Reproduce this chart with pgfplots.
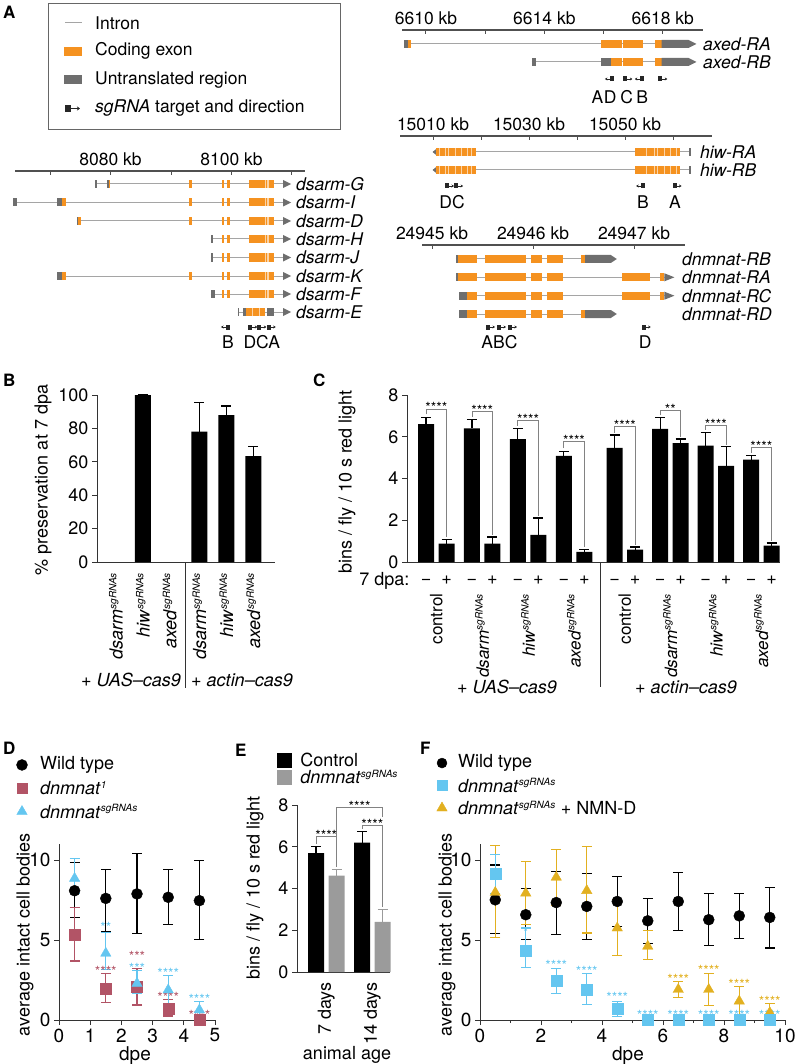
\documentclass[border=0pt]{standalone}
\usepackage{fontspec}
\setmainfont{TeX Gyre Heros}
\setsansfont{TeX Gyre Heros}
\usepackage{pgfplots}
\pgfplotsset{compat=1.18}
\usetikzlibrary{arrows.meta}

\definecolor{cdsc}{RGB}{245,146,32}
\definecolor{utrc}{RGB}{110,110,110}
\definecolor{intc}{RGB}{165,165,165}
\definecolor{mar}{RGB}{178,84,102}
\definecolor{sky}{RGB}{100,198,240}
\definecolor{gold}{RGB}{226,176,32}
\definecolor{egray}{RGB}{155,155,155}
\definecolor{scl}{RGB}{80,80,80}
\definecolor{brk}{RGB}{130,130,130}

\newcommand{\fa}{\fontsize{17.5}{20}\selectfont}
\newcommand{\fb}{\fontsize{18}{21}\selectfont}
\newcommand{\fbs}{\fontsize{17}{20}\selectfont}
\newcommand{\fc}{\fontsize{19}{22}\selectfont}
\newcommand{\fst}{\fontsize{14}{14}\selectfont}
\newcommand{\fl}{\fontsize{17}{20}\selectfont\bfseries}
\newcommand{\sgr}{\textsuperscript{\fontsize{10}{10}\selectfont\itshape sgRNAs}}

% gene model helpers (axis cs)
\newcommand{\intr}[3]{\draw[intc, line width=1pt] (axis cs:#1,#3) -- (axis cs:#2,#3);}
\newcommand{\cds}[3]{\fill[cdsc] ([yshift=-4pt]axis cs:#1,#3) rectangle ([yshift=4pt]axis cs:#2,#3);}
\newcommand{\utr}[3]{\fill[utrc] ([yshift=-4pt]axis cs:#1,#3) rectangle ([yshift=4pt]axis cs:#2,#3);}
\newcommand{\utrR}[4]{\fill[utrc] ([yshift=-4pt]axis cs:#1,#3) -- ([xshift=-#4,yshift=-4pt]axis cs:#2,#3) -- (axis cs:#2,#3) -- ([xshift=-#4,yshift=4pt]axis cs:#2,#3) -- ([yshift=4pt]axis cs:#1,#3) -- cycle;}
\newcommand{\triR}[3]{\fill[utrc] (axis cs:#1,#2) -- ++(-#3,4pt) -- ++(0pt,-8pt) -- cycle;}
\newcommand{\triL}[2]{\fill[utrc] (axis cs:#1,#2) -- ++(5pt,4pt) -- ++(0pt,-8pt) -- cycle;}
\newcommand{\sepl}[2]{\draw[cdsc!40!white, line width=0.6pt] ([yshift=-4pt]axis cs:#1,#2) -- ([yshift=4pt]axis cs:#1,#2);}
\newcommand{\sgR}[2]{\fill[black!85] ([yshift=-2.5pt]axis cs:#1,#2) rectangle ++(4pt,5pt); \draw[black!85, line width=0.6pt, -{Stealth[length=2.5pt,width=3pt]}] ([xshift=4pt]axis cs:#1,#2) -- ++(5pt,0pt);}
\newcommand{\sgL}[2]{\fill[black!85] ([yshift=-2.5pt]axis cs:#1,#2) rectangle ++(-4pt,5pt); \draw[black!85, line width=0.6pt, -{Stealth[length=2.5pt,width=3pt]}] ([xshift=-4pt]axis cs:#1,#2) -- ++(-5pt,0pt);}
\newcommand{\glab}[3]{\node[anchor=west, font=\fa\itshape, inner sep=0pt] at (axis cs:#1,#2) {#3};}
\newcommand{\tlab}[3]{\node[font=\fa, inner sep=0pt] at (axis cs:#1,#2) {#3};}
\newcommand{\scaleline}[3]{\draw[scl, line width=1.3pt] (axis cs:#1,#3) -- (axis cs:#2,#3);}
\newcommand{\stick}[2]{\draw[scl, line width=1pt] ([yshift=0.6pt]axis cs:#1,#2) -- ++(0pt,-4.6pt);}
\newcommand{\slab}[3]{\node[anchor=base, font=\fa, inner sep=0pt] at ([yshift=5pt]axis cs:#1,#2) {#3};}
% dsarm common parts
\newcommand{\eone}[1]{\cds{93.03}{93.41}{#1}}
\newcommand{\tailA}[1]{\cds{98.38}{98.76}{#1}\cds{99.2}{99.75}{#1}\cds{102.95}{107.02}{#1}\sepl{105.6}{#1}\sepl{105.85}{#1}\sepl{106.1}{#1}\triR{109.85}{#1}{8pt}}
% dnmnat common parts
\newcommand{\dfront}[1]{\cds{1.52}{1.93}{#1}\cds{1.98}{2.09}{#1}\cds{2.14}{2.30}{#1}}
\newcommand{\hiwrow}[1]{\intr{10}{63.75}{#1}\triL{9.9}{#1}\cds{10.6}{18.96}{#1}\sepl{11.3}{#1}\sepl{12.5}{#1}\sepl{13.2}{#1}\sepl{14.6}{#1}\sepl{15.9}{#1}\sepl{17.1}{#1}\sepl{18.0}{#1}\cds{52.1}{61.5}{#1}\sepl{54.5}{#1}\sepl{56.0}{#1}\sepl{56.8}{#1}\sepl{58.2}{#1}\sepl{59.5}{#1}\sepl{60.6}{#1}\utr{63.3}{63.75}{#1}}
% panel helpers
\newcommand{\pmk}[2]{\node[font=\fb, anchor=base] at ([yshift=-22pt]axis cs:#1,0) {#2};}
\newcommand{\stars}[4]{\node[font=\fst, text=#1, inner sep=0pt] at ([yshift=-3pt]axis cs:#2,#3) {#4};}
\newcommand{\bstars}[3]{\node[font=\fst, anchor=base, inner sep=0pt] at ([yshift=-4pt]axis cs:#1,#2) {#3};}
\newcommand{\clab}[2]{\node[rotate=90, anchor=east, font=\fbs] at ([yshift=-28pt]axis cs:#1,0) {#2};}
\newcommand{\blab}[2]{\node[rotate=90, anchor=east, font=\fb] at ([yshift=-7pt]axis cs:#1,0) {#2};}

\pgfplotsset{
  gene/.style={hide axis, scale only axis, clip=false, anchor=south west},
  dax/.style={scale only axis, clip=false, anchor=south west,
    axis x line*=bottom, axis y line*=left,
    axis line style={-, line width=1pt, black!80},
    every tick/.style={line width=1pt, black!80},
    tick align=outside, major tick length=5pt,
    tick label style={font=\fb},
    /pgf/number format/assume math mode=true},
  barE/.style={ybar, bar width=16pt, bar shift=0pt, draw=none,
    error bars/y dir=plus, error bars/y explicit,
    error bars/error bar style={line width=1.2pt, draw=#1},
    error bars/error mark options={rotate=90, mark size=5pt, line width=1.2pt, draw=#1}},
  ptE/.style={only marks,
    error bars/y dir=both, error bars/y explicit,
    error bars/error bar style={line width=1.1pt, draw=#1},
    error bars/error mark options={rotate=90, mark size=5pt, line width=1.1pt, draw=#1}},
}

\begin{document}
\begin{tikzpicture}
\useasboundingbox (0pt,0pt) rectangle (798pt,-1064pt);

% ---------------- Panel letters ----------------
\node[font=\fl, anchor=north west, inner sep=0pt] at (3pt,-6pt) {A};
\node[font=\fl, anchor=north west, inner sep=0pt] at (3pt,-374pt) {B};
\node[font=\fl, anchor=north west, inner sep=0pt] at (313pt,-374pt) {C};
\node[font=\fl, anchor=north west, inner sep=0pt] at (3pt,-742pt) {D};
\node[font=\fl, anchor=north west, inner sep=0pt] at (235pt,-744pt) {E};
\node[font=\fl, anchor=north west, inner sep=0pt] at (420pt,-742pt) {F};

% ---------------- Legend box of A ----------------
\draw[black!60, line width=1pt] (48pt,-4pt) rectangle (340pt,-130pt);
\draw[intc, line width=1pt] (65pt,-23pt) -- (82pt,-23pt);
\node[anchor=west, font=\fa, inner sep=0pt] at (95pt,-23pt) {Intron};
\fill[cdsc] (64pt,-47pt) rectangle (82pt,-56pt);
\node[anchor=west, font=\fa, inner sep=0pt] at (95pt,-51pt) {Coding exon};
\fill[utrc] (64pt,-75pt) rectangle (82pt,-84pt);
\node[anchor=west, font=\fa, inner sep=0pt] at (95pt,-80pt) {Untranslated region};
\fill[black!85] (65pt,-105pt) rectangle (71pt,-112pt);
\draw[black!85, line width=0.8pt, -{Stealth[length=3pt,width=4pt]}] (71pt,-108.5pt) -- (80pt,-108.5pt);
\node[anchor=west, font=\fa, inner sep=0pt] at (95pt,-108pt) {\textit{sgRNA} target and direction};

% ---------------- dsarm (kb - 8000) ----------------
\begin{axis}[gene, at={(15pt,-345pt)}, width=290pt, height=195pt,
  xmin=64.21, xmax=112.15, ymin=-345, ymax=-150]
\scaleline{64.21}{112.15}{-171}
\stick{70}{-171}\stick{80}{-171}\stick{90}{-171}\stick{100}{-171}\stick{110}{-171}
\slab{80}{-171}{8080 kb}\slab{100}{-171}{8100 kb}
\intr{77.44}{109}{-184}\utr{77.44}{77.77}{-184}\utr{79.37}{79.70}{-184}\cds{79.70}{79.92}{-184}\eone{-184}\tailA{-184}
\intr{63.93}{109}{-202.5}\utr{63.93}{64.6}{-202.5}\utr{71.2}{72.03}{-202.5}\cds{72.03}{72.6}{-202.5}\eone{-202.5}\tailA{-202.5}
\intr{74.4}{109}{-221}\utr{74.4}{74.63}{-221}\cds{74.63}{75.07}{-221}\eone{-221}\tailA{-221}
\intr{96.56}{109}{-239}\utr{96.56}{96.89}{-239}\tailA{-239}
\intr{96.56}{109}{-257.5}\utr{96.56}{96.89}{-257.5}\tailA{-257.5}
\intr{71.2}{109}{-276}\utr{71.2}{72.03}{-276}\cds{72.03}{72.6}{-276}\eone{-276}\tailA{-276}
\intr{96.56}{109}{-294}\utr{96.56}{97.27}{-294}\tailA{-294}
\intr{101.02}{109}{-312}\utr{101.02}{101.18}{-312}\utr{101.85}{102.4}{-312}\cds{102.4}{105.54}{-312}\sepl{103.5}{-312}\sepl{104.6}{-312}\utr{105.8}{107.02}{-312}\triR{109.85}{-312}{8pt}
\glab{110.66}{-184}{dsarm-G}\glab{110.66}{-202.5}{dsarm-I}\glab{110.66}{-221}{dsarm-D}
\glab{110.66}{-239}{dsarm-H}\glab{110.66}{-257.5}{dsarm-J}\glab{110.66}{-276}{dsarm-K}
\glab{110.66}{-294}{dsarm-F}\glab{110.66}{-312}{dsarm-E}
\sgL{99.75}{-327}\sgR{102.78}{-327}\sgR{104.27}{-327}\sgR{105.82}{-327}
\tlab{99.42}{-342}{B}\tlab{105.0}{-342}{DCA}
\end{axis}

% ---------------- axed (kb - 6600) ----------------
\begin{axis}[gene, at={(402pt,-105pt)}, width=301pt, height=95pt,
  xmin=9.19, xmax=19.36, ymin=-105, ymax=-10]
\scaleline{9.19}{19.36}{-30}
\stick{10}{-30}\stick{12}{-30}\stick{14}{-30}\stick{16}{-30}\stick{18}{-30}
\slab{10}{-30}{6610 kb}\slab{14}{-30}{6614 kb}\slab{18}{-30}{6618 kb}
\intr{9.26}{18}{-44}\utr{9.26}{9.40}{-44}\cds{9.40}{9.50}{-44}\cds{15.91}{16.61}{-44}\cds{16.64}{17.32}{-44}\cds{17.74}{17.96}{-44}\utrR{17.96}{19.14}{-44}{8pt}
\intr{13.57}{18}{-62}\utr{13.57}{13.72}{-62}\utr{15.91}{16.24}{-62}\cds{16.24}{16.61}{-62}\cds{16.64}{17.32}{-62}\cds{17.74}{17.96}{-62}\utrR{17.96}{19.14}{-62}{8pt}
\glab{19.36}{-44}{axed-RA}\glab{19.36}{-62}{axed-RB}
\sgL{16.35}{-79}\sgR{16.67}{-79}\sgL{17.36}{-79}\sgR{17.85}{-79}
\tlab{15.79}{-97}{A}\tlab{16.22}{-97}{D}\tlab{16.78}{-97}{C}\tlab{17.31}{-97}{B}
\end{axis}

% ---------------- hiw (kb - 15000) ----------------
\begin{axis}[gene, at={(400pt,-210pt)}, width=312pt, height=95pt,
  xmin=3.125, xmax=68.125, ymin=-210, ymax=-115]
\scaleline{3.125}{68.125}{-136}
\stick{10}{-136}\stick{20}{-136}\stick{30}{-136}\stick{40}{-136}\stick{50}{-136}\stick{60}{-136}
\slab{10}{-136}{15010 kb}\slab{30}{-136}{15030 kb}\slab{50}{-136}{15050 kb}
\hiwrow{-152}\hiwrow{-170}
\glab{65.6}{-152}{hiw-RA}\glab{65.6}{-170}{hiw-RB}
\sgR{12.5}{-186}\sgR{14.4}{-186}\sgL{54.2}{-186}\sgR{59.9}{-186}
\tlab{13.96}{-202}{DC}\tlab{53.75}{-202}{B}\tlab{60.4}{-202}{A}
\end{axis}

% ---------------- dnmnat (kb - 24944) ----------------
\begin{axis}[gene, at={(422pt,-350pt)}, width=263pt, height=125pt,
  xmin=0.901, xmax=3.505, ymin=-350, ymax=-225]
\scaleline{0.901}{3.505}{-245}
\stick{1}{-245}\stick{2}{-245}\stick{3}{-245}
\slab{1}{-245}{24945 kb}\slab{2}{-245}{24946 kb}\slab{3}{-245}{24947 kb}
\intr{1.235}{2.6}{-259}\utr{1.235}{1.255}{-259}\cds{1.255}{1.45}{-259}\dfront{-259}\cds{2.475}{2.515}{-259}\utrR{2.515}{2.83}{-259}{6pt}
\intr{1.235}{3.35}{-277.3}\utr{1.235}{1.255}{-277.3}\cds{1.255}{1.45}{-277.3}\dfront{-277.3}\cds{2.88}{3.16}{-277.3}\cds{3.26}{3.30}{-277.3}\triR{3.40}{-277.3}{10pt}
\intr{1.27}{3.35}{-295.7}\utr{1.27}{1.35}{-295.7}\cds{1.35}{1.45}{-295.7}\dfront{-295.7}\cds{2.88}{3.16}{-295.7}\cds{3.26}{3.30}{-295.7}\triR{3.40}{-295.7}{10pt}
\intr{1.27}{2.6}{-314}\utr{1.27}{1.35}{-314}\cds{1.35}{1.45}{-314}\dfront{-314}\cds{2.475}{2.515}{-314}\utrR{2.515}{2.83}{-314}{6pt}
\glab{3.475}{-259}{dnmnat-RB}\glab{3.475}{-277.3}{dnmnat-RA}\glab{3.475}{-295.7}{dnmnat-RC}\glab{3.475}{-314}{dnmnat-RD}
\sgR{1.535}{-327}\sgR{1.644}{-327}\sgR{1.752}{-327}\sgR{3.076}{-327}
\tlab{1.668}{-342}{ABC}\tlab{3.11}{-342}{D}
\end{axis}

% ---------------- Panel B ----------------
\begin{axis}[dax, at={(97pt,-562pt)}, width=178pt, height=167pt,
  xmin=-0.7, xmax=5.9, ymin=0, ymax=100, ytick={0,20,...,100}, xtick=\empty]
\addplot[fill=black, barE=black] coordinates {(1,100) +- (0,0) (3.1,78) +- (0,17.4) (4.1,88) +- (0,5.4) (5.1,63.4) +- (0,6)};
\draw[black!80, line width=1pt] (axis cs:2.59,0) -- ++(0pt,-126pt);
\blab{0}{\textit{dsarm}\sgr}\blab{1}{\textit{hiw}\sgr}\blab{2}{\textit{axed}\sgr}
\blab{3.1}{\textit{dsarm}\sgr}\blab{4.1}{\textit{hiw}\sgr}\blab{5.1}{\textit{axed}\sgr}
\end{axis}
\node[rotate=90, font=\fb] at (43pt,-480pt) {\% preservation at 7 dpa};
\node[font=\fb] at (131pt,-680pt) {+ \textit{UAS–cas9}};
\node[font=\fb] at (242pt,-680pt) {+ \textit{actin–cas9}};

% ---------------- Panel C ----------------
\begin{axis}[dax, at={(407pt,-562pt)}, width=373pt, height=167pt,
  xmin=-0.93, xmax=17.27, ymin=0, ymax=8, ytick={0,2,...,8}, xtick=\empty]
\addplot[fill=black, barE=black] coordinates {
 (0,6.61) +- (0,0.3) (1,0.88) +- (0,0.21)
 (2.24,6.4) +- (0,0.43) (3.24,0.88) +- (0,0.32)
 (4.48,5.89) +- (0,0.51) (5.48,1.3) +- (0,0.81)
 (6.72,5.09) +- (0,0.22) (7.72,0.48) +- (0,0.11)
 (9.2,5.47) +- (0,0.61) (10.2,0.59) +- (0,0.13)
 (11.42,6.38) +- (0,0.53) (12.42,5.7) +- (0,0.19)
 (13.64,5.57) +- (0,0.64) (14.64,4.61) +- (0,0.91)
 (15.86,4.9) +- (0,0.19) (16.86,0.78) +- (0,0.13)};
\addplot[brk, line width=0.8pt] coordinates {(0,7.07) (0,7.33) (1,7.33) (1,1.2)};
\addplot[brk, line width=0.8pt] coordinates {(2.24,6.95) (2.24,7.22) (3.24,7.22) (3.24,1.3)};
\addplot[brk, line width=0.8pt] coordinates {(4.48,6.52) (4.48,6.8) (5.48,6.8) (5.48,2.2)};
\addplot[brk, line width=0.8pt] coordinates {(6.72,5.45) (6.72,5.76) (7.72,5.76) (7.72,0.7)};
\addplot[brk, line width=0.8pt] coordinates {(9.2,6.2) (9.2,6.48) (10.2,6.48) (10.2,0.82)};
\addplot[brk, line width=0.8pt] coordinates {(11.42,7.03) (11.42,7.25) (12.42,7.25) (12.42,6.0)};
\addplot[brk, line width=0.8pt] coordinates {(13.64,6.33) (13.64,6.56) (14.64,6.56) (14.64,5.62)};
\addplot[brk, line width=0.8pt] coordinates {(15.86,5.2) (15.86,5.49) (16.86,5.49) (16.86,1.0)};
\bstars{0.5}{7.33}{****}\bstars{2.74}{7.22}{****}\bstars{4.98}{6.8}{****}\bstars{7.22}{5.76}{****}
\bstars{9.7}{6.48}{****}\bstars{11.92}{7.25}{**}\bstars{14.14}{6.56}{****}\bstars{16.36}{5.49}{****}
\draw[black!80, line width=1pt] (axis cs:8.49,0) -- ++(0pt,-125pt);
\pmk{0}{−}\pmk{2.24}{−}\pmk{4.48}{−}\pmk{6.72}{−}\pmk{9.2}{−}\pmk{11.42}{−}\pmk{13.64}{−}\pmk{15.86}{−}
\pmk{1}{+}\pmk{3.24}{+}\pmk{5.48}{+}\pmk{7.72}{+}\pmk{10.2}{+}\pmk{12.42}{+}\pmk{14.64}{+}\pmk{16.86}{+}
\clab{0.5}{control}\clab{2.74}{\textit{dsarm}\sgr}\clab{4.98}{\textit{hiw}\sgr}\clab{7.22}{\textit{axed}\sgr}
\clab{9.7}{control}\clab{11.92}{\textit{dsarm}\sgr}\clab{14.14}{\textit{hiw}\sgr}\clab{16.36}{\textit{axed}\sgr}
\end{axis}
\node[font=\fb, anchor=base east] at (413pt,-585pt) {7 dpa:};
\node[rotate=90, font=\fb] at (347pt,-482pt) {bins / fly / 10 s red light};
\node[font=\fb] at (507pt,-687pt) {+ \textit{UAS–cas9}};
\node[font=\fb] at (686pt,-687pt) {+ \textit{actin–cas9}};

% ---------------- Panel D ----------------
\begin{axis}[dax, at={(59pt,-1020pt)}, width=156pt, height=176pt,
  xmin=0, xmax=5, ymin=0, ymax=11, xtick={0,...,5}, ytick={0,5,10},
  tick label style={font=\fc}]
\addplot[mark=*, mark size=5.5pt, black, ptE=black] coordinates {
 (0.5,8.08) += (0,1.75) -= (0,1.7) (1.5,7.6) += (0,1.82) -= (0,2.08)
 (2.5,7.88) += (0,2.5) -= (0,2.46) (3.5,7.67) += (0,1.71) -= (0,1.69)
 (4.5,7.46) += (0,2.5) -= (0,2.42)};
\addplot[mark=square*, mark size=5.5pt, mar, ptE=mar] coordinates {
 (0.5,5.31) += (0,1.71) -= (0,1.62) (1.5,1.98) += (0,0.94) -= (0,0.9)
 (2.5,2.08) += (0,1.15) -= (0,1.14) (3.5,0.73) += (0,0.56) -= (0,0.48)
 (4.5,0) += (0,0.1) -= (0,0)};
\addplot[mark=triangle*, mark size=6pt, sky, ptE=sky] coordinates {
 (0.5,8.85) += (0,1.25) -= (0,0.95) (1.5,4.17) += (0,1.3) -= (0,1.0)
 (2.5,2.29) += (0,0.8) -= (0,0.62) (3.5,1.88) += (0,0.93) -= (0,0.94)
 (4.5,0.63) += (0,0.52) -= (0,0.43)};
\stars{sky}{1.5}{5.95}{**}\stars{mar}{1.5}{3.25}{****}
\stars{mar}{2.5}{4.15}{***}\stars{sky}{2.5}{3.4}{***}
\stars{sky}{3.5}{3.1}{****}\stars{mar}{3.5}{1.6}{****}
\stars{sky}{4.5}{1.45}{****}\stars{mar}{4.5}{0.5}{****}
\addplot[only marks, mark=*, mark size=5.5pt, black] coordinates {(-1.186,15.94)};
\addplot[only marks, mark=square*, mark size=5pt, mar] coordinates {(-1.186,14.5)};
\addplot[only marks, mark=triangle*, mark size=6pt, sky] coordinates {(-1.186,13.03)};
\node[anchor=west, font=\fb, inner sep=0pt] at (axis cs:-0.609,15.94) {Wild type};
\node[anchor=west, font=\fb, inner sep=0pt] at (axis cs:-0.609,14.5) {\textit{dnmnat}\textsuperscript{\fontsize{10}{10}\selectfont\itshape 1}};
\node[anchor=west, font=\fb, inner sep=0pt] at (axis cs:-0.609,13.03) {\textit{dnmnat}\sgr};
\end{axis}
\node[rotate=90, font=\fb] at (25pt,-935pt) {average intact cell bodies};
\node[font=\fc] at (135pt,-1056pt) {dpe};

% ---------------- Panel E ----------------
\begin{axis}[dax, at={(297pt,-972pt)}, width=93pt, height=167pt,
  xmin=-0.93, xmax=3.61, ymin=0, ymax=8, ytick={0,2,...,8}, xtick=\empty]
\addplot[fill=black, barE=black] coordinates {(0,5.7) +- (0,0.3) (2.25,6.2) +- (0,0.52)};
\addplot[fill=egray, barE=egray] coordinates {(1,4.62) +- (0,0.28) (3.25,2.4) +- (0,0.6)};
\addplot[brk, line width=0.8pt] coordinates {(0,6.15) (0,6.48) (1,6.48) (1,5.05)};
\addplot[brk, line width=0.8pt] coordinates {(1,6.48) (1,7.89) (3.25,7.89) (3.25,7.41)};
\addplot[brk, line width=0.8pt] coordinates {(2.25,6.87) (2.25,7.04) (3.25,7.04) (3.25,3.12)};
\bstars{0.5}{6.48}{****}\bstars{2.125}{7.89}{****}\bstars{2.75}{7.04}{****}
\blab{0.5}{7 days}\blab{2.75}{14 days}
\addplot[only marks, mark=square*, mark size=7pt, black] coordinates {(-1.537,10.16)};
\addplot[only marks, mark=square*, mark size=7pt, egray] coordinates {(-1.537,9.34)};
\node[anchor=west, font=\fb, inner sep=0pt] at (axis cs:-0.78,10.16) {Control};
\node[anchor=west, font=\fb, inner sep=0pt] at (axis cs:-0.78,9.34) {\textit{dnmnat}\sgr};
\end{axis}
\node[rotate=90, font=\fb] at (255pt,-888pt) {bins / fly / 10 s red light};
\node[font=\fb] at (347pt,-1055pt) {animal age};

% ---------------- Panel F ----------------
\begin{axis}[dax, at={(480pt,-1020pt)}, width=305pt, height=176pt,
  xmin=0, xmax=10, ymin=0, ymax=11, xtick={0,2,...,10}, ytick={0,5,10},
  minor x tick num=1, minor tick length=3pt,
  tick label style={font=\fc}]
\addplot[mark=*, mark size=5.5pt, black, ptE=black] coordinates {
 (0.5,7.51) += (0,2.18) -= (0,2.12) (1.5,6.58) += (0,1.66) -= (0,1.56)
 (2.5,7.34) += (0,1.93) -= (0,2.01) (3.5,7.1) += (0,2.07) -= (0,2.04)
 (4.5,7.41) += (0,1.55) -= (0,1.56) (5.5,6.2) += (0,1.37) -= (0,1.39)
 (6.5,7.41) += (0,1.82) -= (0,1.83) (7.5,6.27) += (0,1.66) -= (0,1.6)
 (8.5,6.51) += (0,1.37) -= (0,1.39) (9.5,6.41) += (0,1.89) -= (0,1.91)};
\addplot[mark=triangle*, mark size=6pt, gold, ptE=gold] coordinates {
 (0.5,7.97) += (0,2.93) -= (0,2.82) (1.5,7.93) += (0,1.97) -= (0,1.98)
 (2.5,8.92) += (0,1.74) -= (0,1.74) (3.5,8.09) += (0,2.74) -= (0,2.65)
 (4.5,5.75) += (0,1.76) -= (0,1.73) (5.5,4.61) += (0,0.99) -= (0,0.83)
 (6.5,1.91) += (0,0.52) -= (0,0.52) (7.5,1.91) += (0,0.99) -= (0,1.0)
 (8.5,1.18) += (0,0.94) -= (0,0.93) (9.5,0.46) += (0,0.56) -= (0,0.46)};
\addplot[mark=square*, mark size=5.5pt, sky, ptE=sky] coordinates {
 (0.5,9.13) += (0,1.24) -= (0,1.2) (1.5,4.36) += (0,1.39) -= (0,1.1)
 (2.5,2.43) += (0,0.77) -= (0,0.77) (3.5,1.91) += (0,0.97) -= (0,0.93)
 (4.5,0.71) += (0,0.47) -= (0,0.5) (5.5,0) +- (0,0) (6.5,0) +- (0,0)
 (7.5,0) +- (0,0) (8.5,0) +- (0,0) (9.5,0) +- (0,0)};
\stars{sky}{1.5}{5.64}{*}
\stars{sky}{2.5}{3.57}{****}\stars{sky}{3.5}{3.2}{****}\stars{sky}{4.5}{1.6}{****}
\stars{sky}{5.5}{0.5}{****}\stars{sky}{6.5}{0.5}{****}\stars{sky}{7.5}{0.5}{****}
\stars{sky}{8.5}{0.5}{****}\stars{sky}{9.5}{0.5}{****}
\stars{gold}{6.5}{2.74}{****}\stars{gold}{7.5}{3.26}{****}\stars{gold}{8.5}{2.43}{****}\stars{gold}{9.5}{1.33}{****}
\addplot[only marks, mark=*, mark size=5pt, black] coordinates {(-1.246,16.06)};
\addplot[only marks, mark=square*, mark size=5pt, sky] coordinates {(-1.246,14.66)};
\addplot[only marks, mark=triangle*, mark size=6pt, gold] coordinates {(-1.246,13.25)};
\node[anchor=west, font=\fb, inner sep=0pt] at (axis cs:-0.721,16.06) {Wild type};
\node[anchor=west, font=\fb, inner sep=0pt] at (axis cs:-0.721,14.66) {\textit{dnmnat}\sgr};
\node[anchor=west, font=\fb, inner sep=0pt] at (axis cs:-0.721,13.25) {\textit{dnmnat}\sgr{} + NMN-D};
\end{axis}
\node[rotate=90, font=\fb] at (447pt,-935pt) {average intact cell bodies};
\node[font=\fc] at (628pt,-1056pt) {dpe};

\end{tikzpicture}
\end{document}
